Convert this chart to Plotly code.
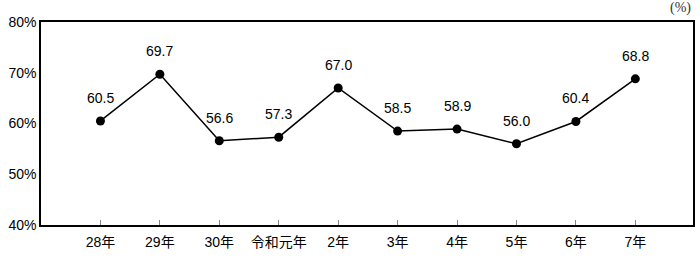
import plotly.graph_objects as go

categories = ["28年", "29年", "30年", "令和元年", "2年", "3年", "4年", "5年", "6年", "7年"]
values = [60.5, 69.7, 56.6, 57.3, 67.0, 58.5, 58.9, 56.0, 60.4, 68.8]
y_ticks = [40, 50, 60, 70, 80]
y_tick_labels = ["40%", "50%", "60%", "70%", "80%"]

FONT = "Liberation Sans, Arial, Noto Sans CJK JP, sans-serif"
xs = list(range(len(categories)))

fig = go.Figure()
fig.add_trace(go.Scatter(
    x=xs, y=values,
    mode="lines+markers",
    line=dict(color="black", width=1.5),
    marker=dict(color="black", size=9),
    cliponaxis=False,
))

annotations = [dict(
    x=x, y=v, xref="x", yref="y", text=f"{v:.1f}", showarrow=False,
    xanchor="center", yanchor="bottom", yshift=13,
    font=dict(family=FONT, size=14, color="black"),
) for x, v in zip(xs, values)]
annotations.append(dict(
    text="(%)", xref="paper", yref="paper", x=1, y=1, yshift=4,
    xanchor="right", yanchor="bottom", showarrow=False,
    font=dict(family="Liberation Serif, serif", size=14, color="#333"),
))

fig.update_layout(
    width=700, height=258,
    margin=dict(l=41, r=5, t=22, b=33),
    paper_bgcolor="white", plot_bgcolor="white",
    showlegend=False,
    font=dict(family=FONT, size=14, color="black"),
    xaxis=dict(
        range=[-1, 9.97],
        tickmode="array", tickvals=xs, ticktext=categories,
        ticks="inside", ticklen=5, tickcolor="#888", tickwidth=1,
        ticklabelstandoff=3,
        showline=True, linecolor="black", linewidth=1.5, mirror=True,
        showgrid=False, zeroline=False,
        tickfont=dict(family=FONT, size=14, color="black"),
    ),
    yaxis=dict(
        range=[40, 80],
        tickmode="array", tickvals=y_ticks, ticktext=y_tick_labels,
        ticks="",
        showline=True, linecolor="black", linewidth=1.5, mirror=True,
        showgrid=False, zeroline=False,
        tickfont=dict(family=FONT, size=14, color="black"),
    ),
    annotations=annotations,
)

fig.write_html("out.html")
